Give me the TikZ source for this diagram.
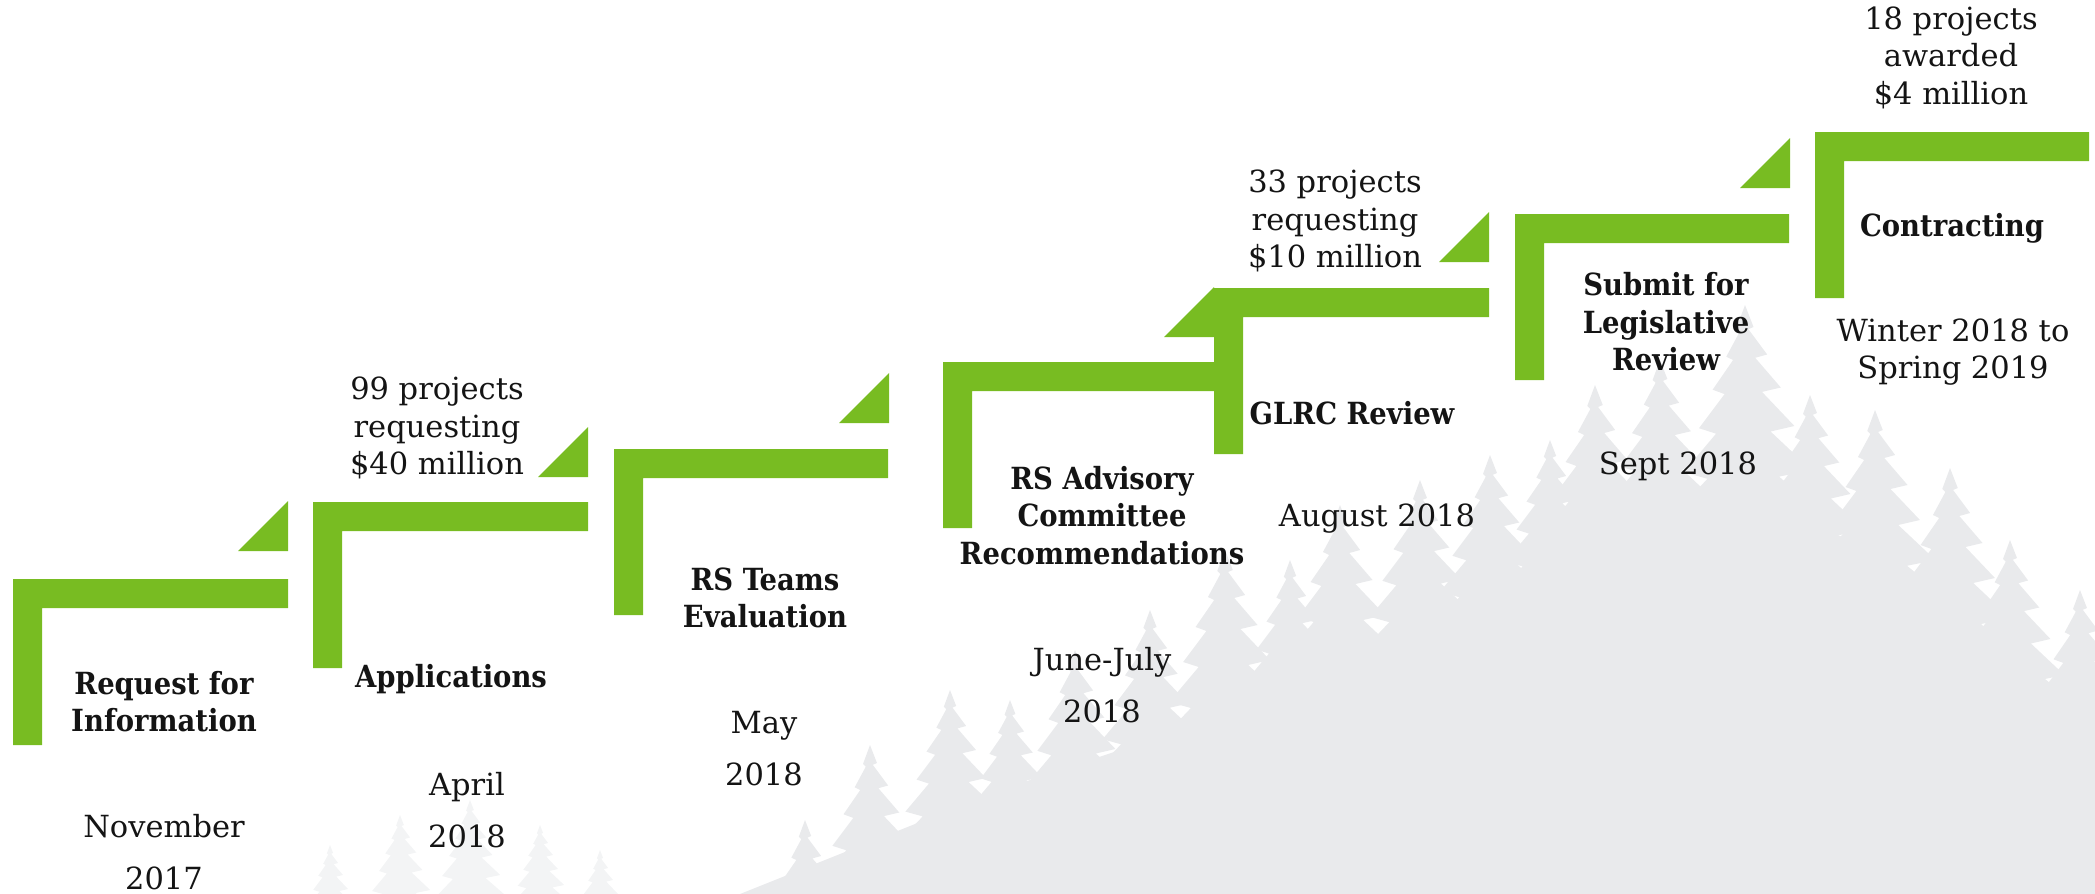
\documentclass[tikz,border=0pt]{standalone}
\usepackage{fontspec}
\setmainfont{DejaVu Serif}[BoldFont={DejaVu Serif Condensed Bold}]
\usetikzlibrary{calc}
\definecolor{leaf}{HTML}{78BC22}
\definecolor{treegray}{HTML}{E9EAEC}
\definecolor{ink}{HTML}{141414}
\newcommand{\stepL}[4]{% name, x, y, width
  \fill[leaf] (#2,#3) -- ++(#4,0) -- ++(0,29) -- ($(#2,#3)+(29,29)$) -- ++(0,137) -- ++(-29,0) -- cycle;
  \coordinate (#1) at (#2,#3);}
\newcommand{\triT}[3]{% name, right x, top y
  \fill[leaf] (#2,#3) -- ++(0,50) -- ++(-50,0) -- cycle;
  \coordinate (#1) at (#2,#3);}
\newcommand{\conifer}[4]{% x, top y, scale, colour
  \begin{scope}[shift={(#1,#2)},xscale=1.55*#3,yscale=#3]
  \fill[#4] (0,0) -- (5,20) -- (2,22) -- (13,45) -- (6,48) -- (21,75) -- (10,79) -- (29,110) -- (15,115) -- (39,150) -- (20,156) -- (49,195) -- (26,202) -- (59,245) -- (32,252) -- (69,300) -- (38,308) -- (79,360) -- (44,368) -- (89,425) -- (50,433) -- (99,495) -- (56,503) -- (109,570) -- (62,578) -- (119,650) -- (70,660) -- (130,740) -- (80,750) -- (140,830) -- (90,840) -- (150,920)
   -- (-150,920) -- (-92,845) -- (-136,835) -- (-82,752) -- (-126,742) -- (-72,662) -- (-114,652) -- (-64,580) -- (-104,572) -- (-58,505) -- (-96,497) -- (-52,435) -- (-86,427) -- (-46,370) -- (-76,362) -- (-40,310) -- (-66,302) -- (-34,254) -- (-56,247) -- (-28,204) -- (-46,197) -- (-22,158) -- (-36,152) -- (-17,117) -- (-27,112) -- (-12,81) -- (-19,77) -- (-7,50) -- (-11,47) -- (-3,24) -- (-5,21) -- cycle;
  \end{scope}}
\tikzset{
  txt/.style={font=\fontsize{15.25pt}{18.75pt}\selectfont, align=center, inner sep=0pt, text=ink},
  btxt/.style={txt, font=\fontsize{15.25pt}{18.75pt}\selectfont\bfseries},
  dtxt/.style={txt, font=\fontsize{15.25pt}{26pt}\selectfont},
}
\begin{document}
\begin{tikzpicture}[x=0.5pt,y=-0.5pt]
\useasboundingbox (0,0) rectangle (2095,894);
% tree silhouette background
\begin{scope}
\clip (0,0) rectangle (2095,894);
\conifer{330}{845}{0.4}{treegray!55}
\conifer{400}{815}{0.5}{treegray!55}
\conifer{470}{800}{0.5}{treegray!55}
\conifer{540}{825}{0.4}{treegray!55}
\conifer{600}{850}{0.4}{treegray!55}
\fill[treegray] (740,894) -- (900,830) -- (1000,790) -- (1150,740) -- (1350,650) -- (1550,560) -- (1750,500) -- (1900,560) -- (2095,720) -- (2095,894) -- cycle;
\foreach \tx/\ty/\ts in {805/820/0.8, 870/745/0.9, 950/690/0.8, 1010/700/0.7, 1075/650/0.9, 1150/610/0.85, 1225/550/1.0, 1290/560/0.8, 1340/505/1.0, 1420/480/0.9, 1490/455/0.9, 1550/440/0.8, 1595/385/1.0, 1660/360/0.95, 1745/305/1.1, 1810/395/0.9, 1875/410/1.0, 1950/468/1.0, 2010/540/0.9, 2080/590/0.9}
  {\conifer{\tx}{\ty}{\ts}{treegray}}
\end{scope}
% steps
\stepL{s1}{13}{579}{275}
\stepL{s2}{313}{502}{275}
\stepL{s3}{614}{449}{274}
\stepL{s4}{943}{362}{271}
\stepL{s5}{1214}{288}{275}
\stepL{s6}{1515}{214}{274}
\stepL{s7}{1815}{132}{274}
% triangles
\triT{t1}{288}{501}
\triT{t2}{588}{427}
\triT{t3}{889}{373}
\triT{t4}{1214}{287}
\triT{t5}{1489}{212}
\triT{t6}{1790}{138}
% texts
\node[btxt] (rfi) at (164,701.5) {Request for\\Information};
\node[dtxt] (nov) at (164,852.5) {November\\2017};
\node[txt] (n99) at (437,428) {99 projects\\requesting\\\$40 million};
\node[btxt] (app) at (451,679) {Applications};
\node[dtxt] (apr) at (467,810) {April\\2018};
\node[btxt] (rst) at (765,598) {RS Teams\\Evaluation};
\node[dtxt] (may) at (764,749) {May\\2018};
\node[btxt] (rsa) at (1102,515.5) {RS Advisory\\Committee\\Recommendations};
\node[dtxt] (jun) at (1102,685) {June-July\\2018};
\node[txt] (n33) at (1335,221) {33 projects\\requesting\\\$10 million};
\node[btxt] (glrc) at (1352,413) {GLRC Review};
\node[txt] (aug) at (1377,519) {August 2018};
\node[btxt] (sub) at (1666,322) {Submit for\\Legislative\\Review};
\node[txt] (sep) at (1678,466) {Sept 2018};
\node[txt] (n18) at (1951,57.7) {18 projects\\awarded\\\$4 million};
\node[btxt] (con) at (1952,228) {Contracting};
\node[txt] (win) at (1953,352) {Winter 2018 to\\Spring 2019};
\end{tikzpicture}
\end{document}
